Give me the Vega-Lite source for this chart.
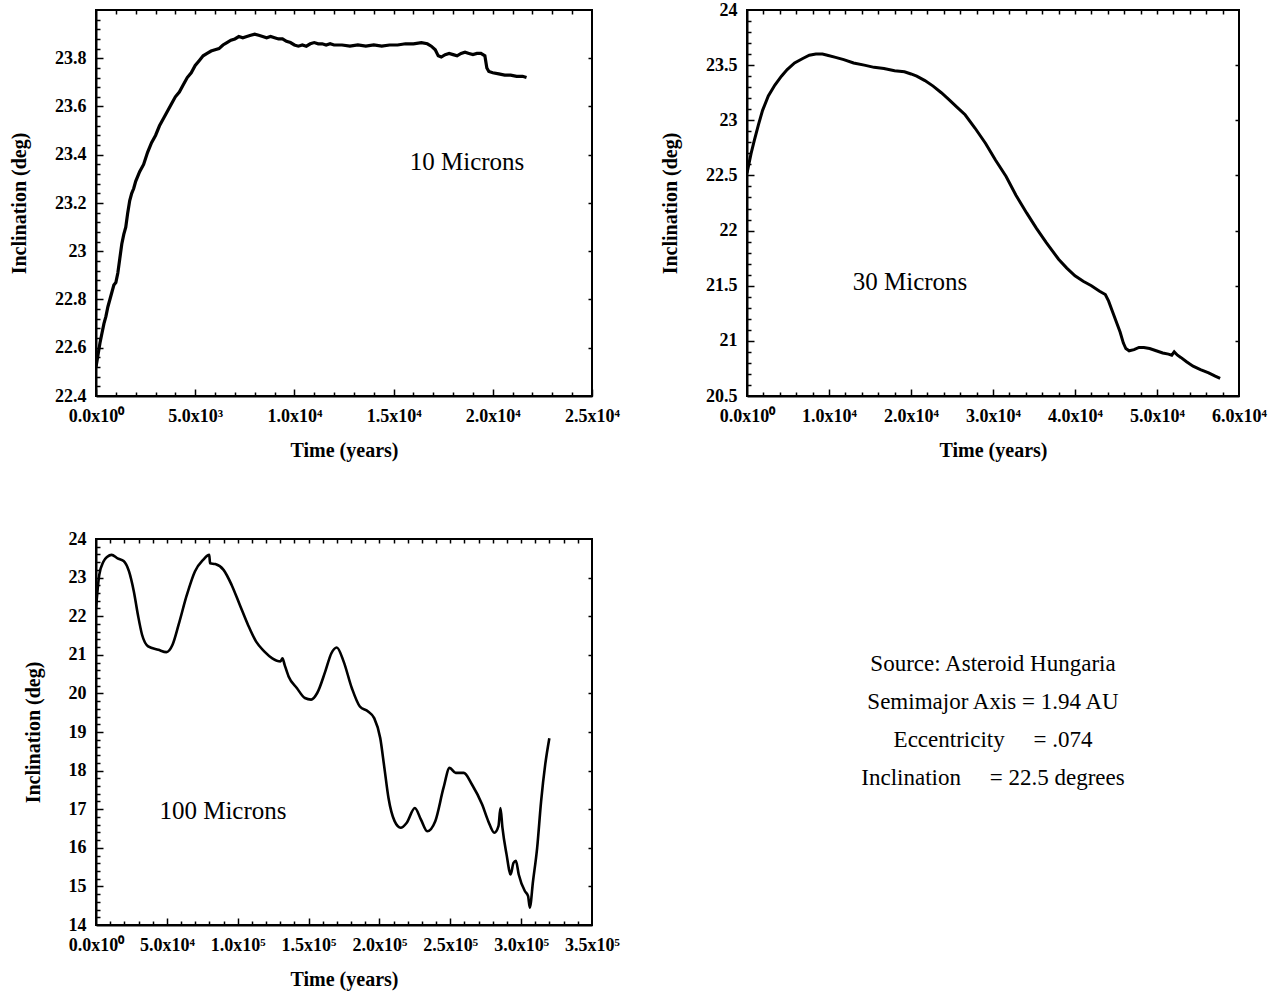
{
  "$schema": "https://vega.github.io/schema/vega-lite/v6.json",
  "background": "white",
  "padding": {"left": 8, "top": 0, "right": 5, "bottom": 5},
  "datasets": {
    "p1": [
      {"t":0,"i":22.52},{"t":100,"i":22.57},{"t":200,"i":22.62},{"t":300,"i":22.66},{"t":400,"i":22.70},{"t":500,"i":22.73},{"t":600,"i":22.77},{"t":700,"i":22.80},{"t":800,"i":22.83},{"t":900,"i":22.86},{"t":1000,"i":22.87},{"t":1100,"i":22.91},{"t":1200,"i":22.97},{"t":1300,"i":23.03},{"t":1400,"i":23.07},{"t":1500,"i":23.10},{"t":1600,"i":23.16},{"t":1700,"i":23.21},{"t":1800,"i":23.24},{"t":1900,"i":23.26},{"t":2000,"i":23.29},{"t":2200,"i":23.33},{"t":2400,"i":23.36},{"t":2600,"i":23.41},{"t":2800,"i":23.45},{"t":3000,"i":23.48},{"t":3200,"i":23.52},{"t":3400,"i":23.55},{"t":3600,"i":23.58},{"t":3800,"i":23.61},{"t":4000,"i":23.64},{"t":4200,"i":23.66},{"t":4400,"i":23.69},{"t":4600,"i":23.72},{"t":4800,"i":23.74},{"t":5000,"i":23.77},{"t":5200,"i":23.79},{"t":5400,"i":23.81},{"t":5600,"i":23.82},{"t":5800,"i":23.83},{"t":6000,"i":23.835},{"t":6200,"i":23.84},{"t":6400,"i":23.855},{"t":6600,"i":23.865},{"t":6800,"i":23.875},{"t":7000,"i":23.88},{"t":7200,"i":23.89},{"t":7400,"i":23.885},{"t":7600,"i":23.89},{"t":7800,"i":23.895},{"t":8000,"i":23.90},{"t":8200,"i":23.895},{"t":8400,"i":23.89},{"t":8600,"i":23.885},{"t":8800,"i":23.89},{"t":9000,"i":23.885},{"t":9200,"i":23.88},{"t":9400,"i":23.88},{"t":9600,"i":23.87},{"t":9800,"i":23.865},{"t":10000,"i":23.855},{"t":10200,"i":23.85},{"t":10400,"i":23.855},{"t":10600,"i":23.85},{"t":10800,"i":23.86},{"t":11000,"i":23.865},{"t":11200,"i":23.86},{"t":11400,"i":23.86},{"t":11600,"i":23.855},{"t":11800,"i":23.86},{"t":12000,"i":23.855},{"t":12400,"i":23.855},{"t":12800,"i":23.85},{"t":13200,"i":23.855},{"t":13600,"i":23.85},{"t":14000,"i":23.855},{"t":14400,"i":23.85},{"t":14800,"i":23.855},{"t":15200,"i":23.855},{"t":15600,"i":23.86},{"t":16000,"i":23.86},{"t":16400,"i":23.865},{"t":16700,"i":23.86},{"t":16900,"i":23.85},{"t":17100,"i":23.835},{"t":17250,"i":23.81},{"t":17400,"i":23.805},{"t":17600,"i":23.815},{"t":17800,"i":23.82},{"t":18000,"i":23.815},{"t":18200,"i":23.81},{"t":18400,"i":23.82},{"t":18600,"i":23.825},{"t":18800,"i":23.82},{"t":19000,"i":23.815},{"t":19200,"i":23.82},{"t":19400,"i":23.82},{"t":19600,"i":23.81},{"t":19700,"i":23.76},{"t":19800,"i":23.745},{"t":20000,"i":23.74},{"t":20300,"i":23.735},{"t":20600,"i":23.73},{"t":20900,"i":23.73},{"t":21200,"i":23.725},{"t":21500,"i":23.725},{"t":21700,"i":23.72}
    ],
    "p2": [
      {"t":0,"i":22.52},{"t":500,"i":22.70},{"t":900,"i":22.82},{"t":1400,"i":22.96},{"t":1900,"i":23.09},{"t":2600,"i":23.22},{"t":3400,"i":23.32},{"t":4200,"i":23.40},{"t":4900,"i":23.46},{"t":5800,"i":23.52},{"t":6800,"i":23.56},{"t":7600,"i":23.59},{"t":8400,"i":23.60},{"t":9200,"i":23.60},{"t":9800,"i":23.59},{"t":10800,"i":23.57},{"t":11800,"i":23.55},{"t":13000,"i":23.52},{"t":14300,"i":23.50},{"t":15500,"i":23.48},{"t":16700,"i":23.47},{"t":18000,"i":23.45},{"t":19200,"i":23.44},{"t":20000,"i":23.42},{"t":20700,"i":23.40},{"t":21700,"i":23.36},{"t":22700,"i":23.31},{"t":23700,"i":23.25},{"t":24600,"i":23.19},{"t":25600,"i":23.12},{"t":26600,"i":23.05},{"t":27800,"i":22.93},{"t":29100,"i":22.79},{"t":30300,"i":22.64},{"t":31600,"i":22.49},{"t":32800,"i":22.32},{"t":34100,"i":22.16},{"t":35300,"i":22.02},{"t":36500,"i":21.89},{"t":38000,"i":21.74},{"t":39000,"i":21.66},{"t":40000,"i":21.59},{"t":41000,"i":21.54},{"t":42000,"i":21.50},{"t":43000,"i":21.45},{"t":43700,"i":21.42},{"t":44100,"i":21.36},{"t":44500,"i":21.28},{"t":45000,"i":21.18},{"t":45500,"i":21.08},{"t":45900,"i":20.98},{"t":46200,"i":20.93},{"t":46600,"i":20.91},{"t":47200,"i":20.92},{"t":47800,"i":20.94},{"t":48400,"i":20.94},{"t":49100,"i":20.93},{"t":49900,"i":20.91},{"t":50700,"i":20.89},{"t":51400,"i":20.88},{"t":51800,"i":20.87},{"t":52100,"i":20.90},{"t":52500,"i":20.87},{"t":52900,"i":20.85},{"t":53600,"i":20.81},{"t":54400,"i":20.77},{"t":55300,"i":20.74},{"t":56300,"i":20.71},{"t":57100,"i":20.68},{"t":57700,"i":20.66}
    ],
    "p3": [
      {"t":0,"i":22.2},{"t":2300,"i":23.07},{"t":5200,"i":23.41},{"t":8000,"i":23.54},{"t":11000,"i":23.59},{"t":15200,"i":23.5},{"t":19500,"i":23.43},{"t":23300,"i":23.16},{"t":26700,"i":22.64},{"t":29600,"i":22.03},{"t":32500,"i":21.52},{"t":36800,"i":21.22},{"t":44000,"i":21.13},{"t":49700,"i":21.07},{"t":54000,"i":21.26},{"t":58300,"i":21.78},{"t":64100,"i":22.55},{"t":69800,"i":23.16},{"t":75600,"i":23.46},{"t":79900,"i":23.59},{"t":80500,"i":23.37},{"t":84200,"i":23.35},{"t":90000,"i":23.20},{"t":95700,"i":22.81},{"t":101500,"i":22.29},{"t":107200,"i":21.78},{"t":113000,"i":21.34},{"t":118700,"i":21.09},{"t":124400,"i":20.91},{"t":130200,"i":20.83},{"t":131600,"i":20.91},{"t":133100,"i":20.74},{"t":135900,"i":20.44},{"t":141700,"i":20.14},{"t":147400,"i":19.88},{"t":151800,"i":19.84},{"t":156100,"i":20.01},{"t":161800,"i":20.57},{"t":166100,"i":21.04},{"t":169900,"i":21.19},{"t":174700,"i":20.83},{"t":180500,"i":20.14},{"t":186200,"i":19.66},{"t":192000,"i":19.53},{"t":196300,"i":19.36},{"t":200600,"i":18.84},{"t":203500,"i":18.07},{"t":206400,"i":17.29},{"t":210700,"i":16.69},{"t":215000,"i":16.52},{"t":219300,"i":16.65},{"t":225000,"i":17.03},{"t":229300,"i":16.73},{"t":233700,"i":16.43},{"t":239400,"i":16.69},{"t":245200,"i":17.55},{"t":249500,"i":18.07},{"t":253800,"i":17.94},{"t":259500,"i":17.94},{"t":265300,"i":17.64},{"t":272500,"i":17.12},{"t":276800,"i":16.69},{"t":281100,"i":16.39},{"t":284000,"i":16.56},{"t":285400,"i":17.03},{"t":286800,"i":16.52},{"t":289700,"i":15.83},{"t":292600,"i":15.31},{"t":294600,"i":15.61},{"t":296300,"i":15.66},{"t":298300,"i":15.31},{"t":302600,"i":14.88},{"t":304900,"i":14.75},{"t":306100,"i":14.45},{"t":308400,"i":15.14},{"t":311300,"i":16.0},{"t":314100,"i":17.21},{"t":317000,"i":18.16},{"t":319900,"i":18.84}
    ],
    "info": [
      {"line":1,"text":"Source: Asteroid Hungaria"},
      {"line":2,"text":"Semimajor Axis = 1.94 AU"},
      {"line":3,"text":"Eccentricity\u00a0\u00a0\u00a0\u00a0\u00a0= .074"},
      {"line":4,"text":"Inclination\u00a0\u00a0\u00a0\u00a0\u00a0= 22.5 degrees"}
    ],
    "anchor": [{"t": 0, "i": 0}]
  },
  "columns": 2,
  "spacing": {"row": 143, "column": 155},
  "bounds": "flush",
  "concat": [
    {
      "width": 496, "height": 386,
      "resolve": {"scale": {"x": "independent", "y": "independent"}, "axis": {"x": "independent", "y": "independent"}},
      "layer": [
        {
          "data": {"name": "p1"},
          "mark": {"type": "line", "color": "black", "strokeWidth": 3.2, "clip": true},
          "encoding": {
            "x": {"field": "t", "type": "quantitative", "title": "Time (years)",
                  "scale": {"domain": [0, 25000], "nice": false, "zero": false},
                  "axis": {"values": [0, 5000, 10000, 15000, 20000, 25000]}},
            "y": {"field": "i", "type": "quantitative", "title": "Inclination (deg)",
                  "scale": {"domain": [22.4, 24], "nice": false, "zero": false},
                  "axis": {"values": [22.4, 22.6, 22.8, 23, 23.2, 23.4, 23.6, 23.8], "format": "~g"}}
          }
        },
        {
          "data": {"values": [{"t": 18700, "i": 23.37, "label": "10 Microns"}]},
          "mark": {"type": "text", "font": "Liberation Serif", "fontSize": 25, "color": "black"},
          "encoding": {
            "x": {"field": "t", "type": "quantitative", "scale": {"domain": [0, 25000], "nice": false, "zero": false}, "axis": null},
            "y": {"field": "i", "type": "quantitative", "scale": {"domain": [22.4, 24], "nice": false, "zero": false}, "axis": null},
            "text": {"field": "label"}
          }
        },
        {"data": {"name": "anchor"}, "mark": {"type": "point", "opacity": 0},
         "encoding": {
           "x": {"field": "t", "type": "quantitative", "scale": {"domain": [0, 25000], "nice": false, "zero": false},
             "axis": {"orient": "bottom", "offset": -7, "tickSize": 7, "ticks": true, "labels": false, "domain": false, "title": null,
                      "values": [0, 5000, 10000, 15000, 20000, 25000]}},
           "y": {"field": "i", "type": "quantitative", "scale": {"domain": [22.4, 24], "nice": false, "zero": false},
             "axis": {"orient": "left", "offset": -7, "tickSize": 7, "ticks": true, "labels": false, "domain": false, "title": null,
                      "values": [22.6, 22.8, 23, 23.2, 23.4, 23.6, 23.8]}}}},
        {"data": {"name": "anchor"}, "mark": {"type": "point", "opacity": 0},
         "encoding": {
           "x": {"field": "t", "type": "quantitative", "scale": {"domain": [0, 25000], "nice": false, "zero": false},
             "axis": {"orient": "bottom", "offset": -4, "tickSize": 4, "ticks": true, "labels": false, "domain": false, "title": null,
                      "values": [1000,2000,3000,4000,6000,7000,8000,9000,11000,12000,13000,14000,16000,17000,18000,19000,21000,22000,23000,24000]}},
           "y": {"field": "i", "type": "quantitative", "scale": {"domain": [22.4, 24], "nice": false, "zero": false},
             "axis": {"orient": "left", "offset": -4, "tickSize": 4, "ticks": true, "labels": false, "domain": false, "title": null,
                      "values": [22.44,22.48,22.52,22.56,22.64,22.68,22.72,22.76,22.84,22.88,22.92,22.96,23.04,23.08,23.12,23.16,23.24,23.28,23.32,23.36,23.44,23.48,23.52,23.56,23.64,23.68,23.72,23.76,23.84,23.88,23.92,23.96]}}}},
        {"data": {"name": "anchor"}, "mark": {"type": "point", "opacity": 0},
         "encoding": {
           "x": {"field": "t", "type": "quantitative", "scale": {"domain": [0, 25000], "nice": false, "zero": false},
             "axis": {"orient": "top", "offset": -4, "tickSize": 4, "ticks": true, "labels": false, "domain": false, "title": null,
                      "values": [1000,2000,3000,4000,5000,6000,7000,8000,9000,10000,11000,12000,13000,14000,15000,16000,17000,18000,19000,20000,21000,22000,23000,24000]}},
           "y": {"field": "i", "type": "quantitative", "scale": {"domain": [22.4, 24], "nice": false, "zero": false},
             "axis": {"orient": "right", "offset": -4, "tickSize": 4, "ticks": true, "labels": false, "domain": false, "title": null,
                      "values": [22.6, 22.8, 23, 23.2, 23.4, 23.6, 23.8]}}}}
      ]
    },
    {
      "width": 492, "height": 386,
      "resolve": {"scale": {"x": "independent", "y": "independent"}, "axis": {"x": "independent", "y": "independent"}},
      "layer": [
        {
          "data": {"name": "p2"},
          "mark": {"type": "line", "color": "black", "strokeWidth": 3, "clip": true},
          "encoding": {
            "x": {"field": "t", "type": "quantitative", "title": "Time (years)",
                  "scale": {"domain": [0, 60000], "nice": false, "zero": false},
                  "axis": {"values": [0, 10000, 20000, 30000, 40000, 50000, 60000]}},
            "y": {"field": "i", "type": "quantitative", "title": "Inclination (deg)",
                  "scale": {"domain": [20.5, 24], "nice": false, "zero": false},
                  "axis": {"values": [20.5, 21, 21.5, 22, 22.5, 23, 23.5, 24], "format": "~g"}}
          }
        },
        {
          "data": {"values": [{"t": 19880, "i": 21.53, "label": "30 Microns"}]},
          "mark": {"type": "text", "font": "Liberation Serif", "fontSize": 25, "color": "black"},
          "encoding": {
            "x": {"field": "t", "type": "quantitative", "scale": {"domain": [0, 60000], "nice": false, "zero": false}, "axis": null},
            "y": {"field": "i", "type": "quantitative", "scale": {"domain": [20.5, 24], "nice": false, "zero": false}, "axis": null},
            "text": {"field": "label"}
          }
        },
        {"data": {"name": "anchor"}, "mark": {"type": "point", "opacity": 0},
         "encoding": {
           "x": {"field": "t", "type": "quantitative", "scale": {"domain": [0, 60000], "nice": false, "zero": false},
             "axis": {"orient": "bottom", "offset": -7, "tickSize": 7, "ticks": true, "labels": false, "domain": false, "title": null,
                      "values": [10000, 20000, 30000, 40000, 50000]}},
           "y": {"field": "i", "type": "quantitative", "scale": {"domain": [20.5, 24], "nice": false, "zero": false},
             "axis": {"orient": "left", "offset": -7, "tickSize": 7, "ticks": true, "labels": false, "domain": false, "title": null,
                      "values": [21, 21.5, 22, 22.5, 23, 23.5]}}}},
        {"data": {"name": "anchor"}, "mark": {"type": "point", "opacity": 0},
         "encoding": {
           "x": {"field": "t", "type": "quantitative", "scale": {"domain": [0, 60000], "nice": false, "zero": false},
             "axis": {"orient": "bottom", "offset": -4, "tickSize": 4, "ticks": true, "labels": false, "domain": false, "title": null,
                      "values": [2000,4000,6000,8000,12000,14000,16000,18000,22000,24000,26000,28000,32000,34000,36000,38000,42000,44000,46000,48000,52000,54000,56000,58000]}},
           "y": {"field": "i", "type": "quantitative", "scale": {"domain": [20.5, 24], "nice": false, "zero": false},
             "axis": {"orient": "left", "offset": -4, "tickSize": 4, "ticks": true, "labels": false, "domain": false, "title": null,
                      "values": [20.6,20.7,20.8,20.9,21.1,21.2,21.3,21.4,21.6,21.7,21.8,21.9,22.1,22.2,22.3,22.4,22.6,22.7,22.8,22.9,23.1,23.2,23.3,23.4,23.6,23.7,23.8,23.9]}}}},
        {"data": {"name": "anchor"}, "mark": {"type": "point", "opacity": 0},
         "encoding": {
           "x": {"field": "t", "type": "quantitative", "scale": {"domain": [0, 60000], "nice": false, "zero": false},
             "axis": {"orient": "top", "offset": -4, "tickSize": 4, "ticks": true, "labels": false, "domain": false, "title": null,
                      "values": [2000,4000,6000,8000,10000,12000,14000,16000,18000,20000,22000,24000,26000,28000,30000,32000,34000,36000,38000,40000,42000,44000,46000,48000,50000,52000,54000,56000,58000]}},
           "y": {"field": "i", "type": "quantitative", "scale": {"domain": [20.5, 24], "nice": false, "zero": false},
             "axis": {"orient": "right", "offset": -4, "tickSize": 4, "ticks": true, "labels": false, "domain": false, "title": null,
                      "values": [21, 21.5, 22, 22.5, 23, 23.5]}}}}
      ]
    },
    {
      "width": 496, "height": 386,
      "resolve": {"scale": {"x": "independent", "y": "independent"}, "axis": {"x": "independent", "y": "independent"}},
      "layer": [
        {
          "data": {"name": "p3"},
          "mark": {"type": "line", "color": "black", "strokeWidth": 2.6, "interpolate": "monotone", "clip": true},
          "encoding": {
            "x": {"field": "t", "type": "quantitative", "title": "Time (years)",
                  "scale": {"domain": [0, 350000], "nice": false, "zero": false},
                  "axis": {"values": [0, 50000, 100000, 150000, 200000, 250000, 300000, 350000]}},
            "y": {"field": "i", "type": "quantitative", "title": "Inclination (deg)",
                  "scale": {"domain": [14, 24], "nice": false, "zero": false},
                  "axis": {"values": [14, 15, 16, 17, 18, 19, 20, 21, 22, 23, 24], "format": "~g"}}
          }
        },
        {
          "data": {"values": [{"t": 89600, "i": 16.95, "label": "100 Microns"}]},
          "mark": {"type": "text", "font": "Liberation Serif", "fontSize": 25, "color": "black"},
          "encoding": {
            "x": {"field": "t", "type": "quantitative", "scale": {"domain": [0, 350000], "nice": false, "zero": false}, "axis": null},
            "y": {"field": "i", "type": "quantitative", "scale": {"domain": [14, 24], "nice": false, "zero": false}, "axis": null},
            "text": {"field": "label"}
          }
        },
        {"data": {"name": "anchor"}, "mark": {"type": "point", "opacity": 0},
         "encoding": {
           "x": {"field": "t", "type": "quantitative", "scale": {"domain": [0, 350000], "nice": false, "zero": false},
             "axis": {"orient": "bottom", "offset": -7, "tickSize": 7, "ticks": true, "labels": false, "domain": false, "title": null,
                      "values": [50000, 100000, 150000, 200000, 250000, 300000]}},
           "y": {"field": "i", "type": "quantitative", "scale": {"domain": [14, 24], "nice": false, "zero": false},
             "axis": {"orient": "left", "offset": -7, "tickSize": 7, "ticks": true, "labels": false, "domain": false, "title": null,
                      "values": [15, 16, 17, 18, 19, 20, 21, 22, 23]}}}},
        {"data": {"name": "anchor"}, "mark": {"type": "point", "opacity": 0},
         "encoding": {
           "x": {"field": "t", "type": "quantitative", "scale": {"domain": [0, 350000], "nice": false, "zero": false},
             "axis": {"orient": "bottom", "offset": -4, "tickSize": 4, "ticks": true, "labels": false, "domain": false, "title": null,
                      "values": [10000,20000,30000,40000,60000,70000,80000,90000,110000,120000,130000,140000,160000,170000,180000,190000,210000,220000,230000,240000,260000,270000,280000,290000,310000,320000,330000,340000]}},
           "y": {"field": "i", "type": "quantitative", "scale": {"domain": [14, 24], "nice": false, "zero": false},
             "axis": {"orient": "left", "offset": -4, "tickSize": 4, "ticks": true, "labels": false, "domain": false, "title": null,
                      "values": [14.2,14.4,14.6,14.8,15.2,15.4,15.6,15.8,16.2,16.4,16.6,16.8,17.2,17.4,17.6,17.8,18.2,18.4,18.6,18.8,19.2,19.4,19.6,19.8,20.2,20.4,20.6,20.8,21.2,21.4,21.6,21.8,22.2,22.4,22.6,22.8,23.2,23.4,23.6,23.8]}}}},
        {"data": {"name": "anchor"}, "mark": {"type": "point", "opacity": 0},
         "encoding": {
           "x": {"field": "t", "type": "quantitative", "scale": {"domain": [0, 350000], "nice": false, "zero": false},
             "axis": {"orient": "top", "offset": -4, "tickSize": 4, "ticks": true, "labels": false, "domain": false, "title": null,
                      "values": [10000,20000,30000,40000,50000,60000,70000,80000,90000,100000,110000,120000,130000,140000,150000,160000,170000,180000,190000,200000,210000,220000,230000,240000,250000,260000,270000,280000,290000,300000,310000,320000,330000,340000]}},
           "y": {"field": "i", "type": "quantitative", "scale": {"domain": [14, 24], "nice": false, "zero": false},
             "axis": {"orient": "right", "offset": -4, "tickSize": 4, "ticks": true, "labels": false, "domain": false, "title": null,
                      "values": [15, 16, 17, 18, 19, 20, 21, 22, 23]}}}}
      ]
    },
    {
      "width": 492, "height": 364,
      "view": {"stroke": null},
      "data": {"name": "info"},
      "mark": {"type": "text", "font": "Liberation Serif", "fontSize": 23, "color": "black"},
      "encoding": {
        "y": {"field": "line", "type": "quantitative", "axis": null,
              "scale": {"domain": [-2.29, 7.29], "reverse": true, "nice": false, "zero": false}},
        "text": {"field": "text"}
      }
    }
  ],
  "config": {
    "view": {"stroke": "black", "strokeWidth": 2},
    "axis": {
      "grid": false,
      "ticks": false,
      "domainColor": "black",
      "domainWidth": 2,
      "tickColor": "black",
      "tickWidth": 1.5,
      "labelOverlap": false,
      "labelFlush": false,
      "labelFont": "Liberation Serif",
      "labelFontWeight": "bold",
      "labelFontSize": 18,
      "labelColor": "black",
      "titleFont": "Liberation Serif",
      "titleFontSize": 20,
      "titleFontWeight": "bold",
      "titleColor": "black"
    },
    "axisX": {
      "labelExpr": "datum.value == 0 ? '0.0x10⁰' : format(datum.value / pow(10, floor(log(datum.value)/LN10 + 1e-9)), '.1f') + 'x10' + ['⁰','¹','²','³','⁴','⁵','⁶'][floor(log(datum.value)/LN10 + 1e-9)]",
      "labelPadding": 11,
      "titlePadding": 15
    },
    "axisY": {
      "labelPadding": 10,
      "titlePadding": 25
    }
  }
}
